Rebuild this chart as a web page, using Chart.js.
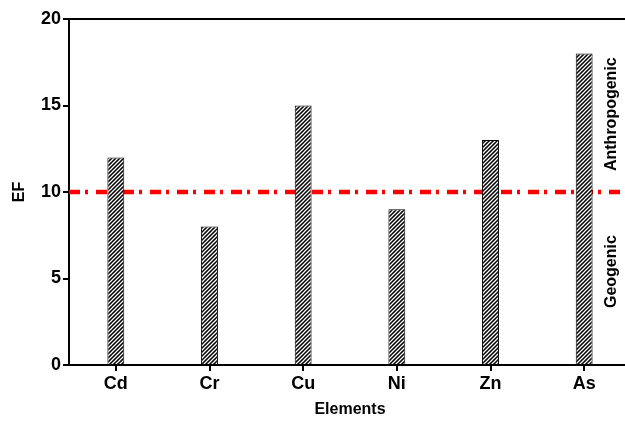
<!DOCTYPE html>
<html>
<head>
<meta charset="utf-8">
<script src="https://cdn.jsdelivr.net/npm/chart.js@4"></script>
<style>
  html, body { margin: 0; padding: 0; background: #fff; overflow: hidden; }
  #wrap { width: 625px; height: 421px; overflow: hidden; }
</style>
</head>
<body>
<div id="wrap"><canvas id="efChart" width="640" height="421"></canvas></div>
<script>
// EF by element
const elements = ['Cd', 'Cr', 'Cu', 'Ni', 'Zn', 'As'];
const efValues = [12, 8, 15, 9, 13, 18];
const yTicks = [0, 5, 10, 15, 20];
const thresholdEF = 10;
const zoneLabels = [
    { text: 'Anthropogenic', at: 14.5 },
    { text: 'Geogenic', at: 5.4 }
];

// --- hatch pattern for bars ---
function makeHatch() {
    const c = document.createElement('canvas');
    c.width = 4;
    c.height = 4;
    const g = c.getContext('2d');
    g.fillStyle = '#000';
    g.fillRect(0, 0, 4, 4);
    g.strokeStyle = '#fff';
    g.lineWidth = 1.25;
    g.beginPath();
    g.moveTo(0, 4); g.lineTo(4, 0);
    g.moveTo(-1, 1); g.lineTo(1, -1);
    g.moveTo(3, 5); g.lineTo(5, 3);
    g.stroke();
    return g.createPattern(c, 'repeat');
}

const font = (size) => ({ family: 'Arial, "Liberation Sans", sans-serif', size: size, weight: 'bold' });

// threshold line + frame + zone labels
const extras = {
    id: 'extras',
    beforeDatasetsDraw(chart) {
        const { ctx, chartArea, scales } = chart;
        const y = scales.y.getPixelForValue(thresholdEF);
        ctx.save();
        ctx.strokeStyle = '#ff0000';
        ctx.lineWidth = 4.5;
        ctx.setLineDash([11, 5, 3, 8]);
        ctx.beginPath();
        ctx.moveTo(chartArea.left, y);
        ctx.lineTo(chartArea.right, y);
        ctx.stroke();
        ctx.restore();
    },
    afterDraw(chart) {
        const { ctx, chartArea, scales } = chart;
        ctx.save();
        ctx.strokeStyle = '#000';
        ctx.lineWidth = 2;
        ctx.beginPath();
        ctx.moveTo(chartArea.left - 1, chartArea.top);
        ctx.lineTo(chart.width, chartArea.top);
        ctx.stroke();

        ctx.fillStyle = '#000';
        ctx.font = 'bold 16px Arial, "Liberation Sans", sans-serif';
        ctx.textAlign = 'center';
        ctx.textBaseline = 'middle';
        for (const z of zoneLabels) {
            const py = scales.y.getPixelForValue(z.at);
            ctx.save();
            ctx.translate(612, py);
            ctx.rotate(-Math.PI / 2);
            ctx.fillText(z.text, 0, 0);
            ctx.restore();
        }
        ctx.restore();
    }
};

new Chart(document.getElementById('efChart'), {
    type: 'bar',
    data: {
        labels: elements,
        datasets: [
            {
                label: 'EF',
                data: efValues,
                backgroundColor: makeHatch(),
                borderColor: '#000',
                borderWidth: 1,
                barPercentage: 0.18,
                categoryPercentage: 1
            }
        ]
    },
    options: {
        responsive: false,
        animation: false,
        layout: { padding: { top: 19, right: 9, left: 0, bottom: 0 } },
        plugins: { legend: { display: false }, tooltip: { enabled: false } },
        scales: {
            x: {
                offset: true,
                grid: { offset: false, drawOnChartArea: false, drawTicks: true, tickLength: 6, color: '#000', lineWidth: 2 },
                border: { color: '#000', width: 2 },
                ticks: { color: '#000', font: font(18), padding: 2 },
                title: { display: true, text: 'Elements', color: '#000', font: font(16), padding: { top: 0, bottom: 2 } },
                afterFit(s) { s.height = 56; }
            },
            y: {
                min: 0,
                max: 20,
                afterBuildTicks(s) { s.ticks = yTicks.map(v => ({ value: v })); },
                grid: { drawOnChartArea: false, drawTicks: true, tickLength: 6, color: '#000', lineWidth: 2 },
                border: { color: '#000', width: 2 },
                ticks: { color: '#000', font: font(18), padding: 2 },
                title: { display: true, text: 'EF', color: '#000', font: font(16), padding: { top: 10, bottom: 0 } },
                afterFit(s) { s.width = 69; }
            }
        }
    },
    plugins: [extras]
});
</script>
</body>
</html>
